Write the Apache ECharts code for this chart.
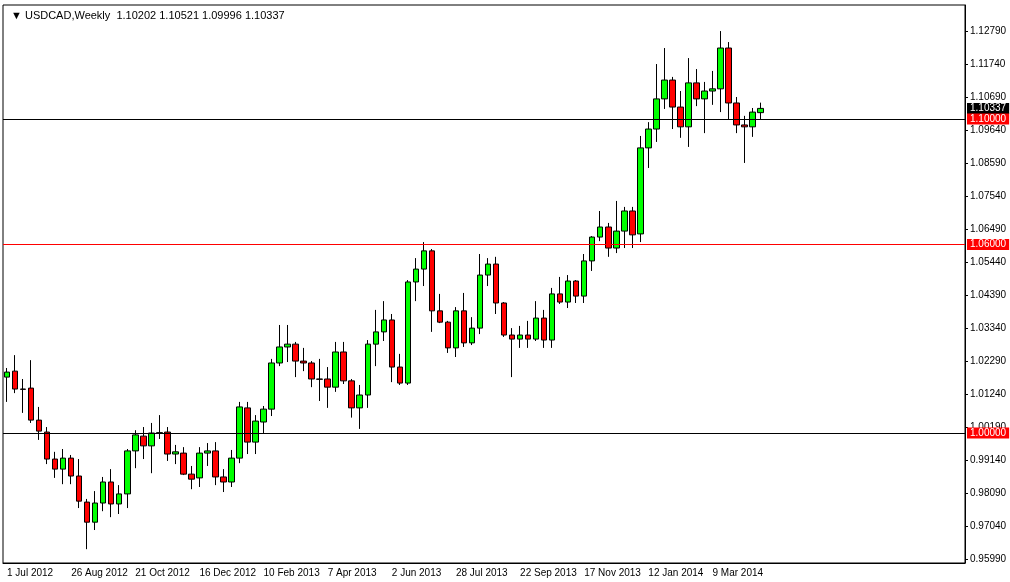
<!DOCTYPE html>
<html>
<head>
<meta charset="utf-8">
<script src="https://cdn.jsdelivr.net/npm/echarts@6/dist/echarts.min.js"></script>
<style>html,body{margin:0;background:#fff}#c{width:1010px;height:582px}</style>
</head>
<body>
<div id="c"></div>
<script>
// weekly USDCAD candles: [open, close, low, high]
var candles = [
[1.0178,1.0194,1.0099,1.0207],[1.0197,1.0140,1.0127,1.0248],[1.0140,1.0139,1.0064,1.0172],[1.0143,1.0041,1.0032,1.0232],
[1.0041,1.0006,0.9978,1.0083],[1.0003,0.9917,0.9901,1.0019],[0.9917,0.9885,0.9857,0.9940],[0.9885,0.9920,0.9837,0.9949],
[0.9920,0.9863,0.9837,0.9930],[0.9863,0.9783,0.9761,0.9917],[0.9780,0.9716,0.9630,0.9790],[0.9716,0.9777,0.9691,0.9815],
[0.9777,0.9844,0.9751,0.9860],[0.9844,0.9774,0.9732,0.9885],[0.9774,0.9806,0.9742,0.9834],[0.9806,0.9943,0.9761,0.9949],
[0.9943,0.9994,0.9888,1.0009],[0.9990,0.9959,0.9917,1.0019],[0.9959,1.0000,0.9872,1.0032],[1.0000,1.0001,0.9981,1.0057],
[1.0003,0.9933,0.9911,1.0019],[0.9933,0.9940,0.9901,0.9962],[0.9936,0.9869,0.9866,0.9955],[0.9869,0.9853,0.9821,0.9895],
[0.9857,0.9936,0.9828,0.9955],[0.9936,0.9943,0.9895,0.9968],[0.9943,0.9860,0.9834,0.9971],[0.9860,0.9844,0.9812,0.9885],
[0.9844,0.9920,0.9828,0.9946],[0.9920,1.0083,0.9904,1.0099],[1.0080,0.9971,0.9933,1.0099],[0.9971,1.0038,0.9933,1.0057],
[1.0035,1.0076,1.0000,1.0086],[1.0076,1.0223,1.0054,1.0236],[1.0223,1.0274,1.0213,1.0344],[1.0274,1.0283,1.0226,1.0344],
[1.0283,1.0229,1.0178,1.0290],[1.0229,1.0223,1.0197,1.0271],[1.0223,1.0172,1.0146,1.0229],[1.0172,1.0171,1.0102,1.0236],
[1.0172,1.0146,1.0080,1.0210],[1.0146,1.0258,1.0131,1.0290],[1.0258,1.0166,1.0156,1.0290],[1.0166,1.0080,1.0049,1.0172],
[1.0080,1.0121,1.0013,1.0153],[1.0121,1.0283,1.0080,1.0296],[1.0283,1.0322,1.0213,1.0392],[1.0322,1.0360,1.0293,1.0420],
[1.0360,1.0210,1.0162,1.0379],[1.0210,1.0159,1.0153,1.0252],[1.0159,1.0481,1.0153,1.0487],[1.0481,1.0522,1.0420,1.0557],
[1.0522,1.0580,1.0468,1.0608],[1.0580,1.0389,1.0322,1.0586],[1.0389,1.0353,1.0350,1.0443],[1.0353,1.0271,1.0255,1.0357],
[1.0271,1.0389,1.0242,1.0401],[1.0389,1.0287,1.0274,1.0446],[1.0287,1.0334,1.0280,1.0369],[1.0334,1.0503,1.0315,1.0570],
[1.0503,1.0538,1.0468,1.0557],[1.0538,1.0414,1.0379,1.0561],[1.0414,1.0312,1.0306,1.0417],[1.0312,1.0299,1.0178,1.0334],
[1.0299,1.0312,1.0271,1.0341],[1.0312,1.0299,1.0271,1.0357],[1.0299,1.0366,1.0293,1.0420],[1.0366,1.0296,1.0271,1.0392],
[1.0296,1.0443,1.0271,1.0462],[1.0443,1.0417,1.0411,1.0497],[1.0417,1.0484,1.0398,1.0503],[1.0484,1.0436,1.0414,1.0487],
[1.0436,1.0548,1.0414,1.0570],[1.0548,1.0624,1.0516,1.0627],[1.0624,1.0656,1.0611,1.0707],[1.0656,1.0589,1.0561,1.0669],
[1.0589,1.0643,1.0573,1.0739],[1.0643,1.0707,1.0589,1.0720],[1.0707,1.0631,1.0589,1.0720],[1.0634,1.0908,1.0608,1.0946],
[1.0908,1.0968,1.0844,1.0990],[1.0968,1.1064,1.0927,1.1175],[1.1064,1.1124,1.1032,1.1226],[1.1124,1.1038,1.0968,1.1134],
[1.1038,1.0975,1.0940,1.1089],[1.0975,1.1115,1.0911,1.1194],[1.1115,1.1064,1.1041,1.1159],[1.1064,1.1089,1.0955,1.1118],
[1.1089,1.1096,1.1045,1.1153],[1.1096,1.1226,1.1022,1.1280],[1.1226,1.1051,1.1000,1.1245],[1.1051,1.0981,1.0955,1.1070],
[1.0981,1.0975,1.0860,1.1010],[1.0975,1.1022,1.0943,1.1035],[1.10202,1.10337,1.09996,1.10521]
];
var priceTicks = [0.95990,0.97040,0.98090,0.99140,1.00190,1.01240,1.02290,1.03340,1.04390,1.05440,1.06490,1.07540,1.08590,1.09640,1.10690,1.11740,1.12790];
var hLines = [1.10000, 1.06000, 1.00000];
var lineColors = ['#000', '#ff0000', '#000'];
var lastPrice = 1.10337;
var startDate = new Date(Date.UTC(2012, 6, 1));
var totalSlots = 120;

var mon = ['Jan','Feb','Mar','Apr','May','Jun','Jul','Aug','Sep','Oct','Nov','Dec'];
var cats = [];
for (var i = 0; i < totalSlots; i++) {
  var d = new Date(startDate.getTime() + i * 7 * 86400000);
  cats.push(d.getUTCDate() + ' ' + mon[d.getUTCMonth()] + ' ' + d.getUTCFullYear());
}

var font = 'Liberation Sans';
var mlLabel = {position: 'end', fontSize: 10, padding: [1, 3, 0, 3], distance: 2, fontFamily: font,
  color: '#fff', formatter: function (p) { return Number(p.value).toFixed(5); }};

var chart = echarts.init(document.getElementById('c'));
chart.setOption({
  animation: false,
  backgroundColor: '#fff',
  title: {text: '\u25BC USDCAD,Weekly  1.10202 1.10521 1.09996 1.10337', left: 6, top: 5,
    textStyle: {fontSize: 11, fontWeight: 'normal', color: '#000', fontFamily: font}},
  grid: {left: 3, right: 45, top: 5, bottom: 19, show: true, borderColor: '#000', borderWidth: 1},
  xAxis: {
    type: 'category', data: cats, boundaryGap: true,
    axisLine: {lineStyle: {color: '#000'}},
    axisTick: {interval: function (i) { return i % 8 === 0; }, length: 3, alignWithLabel: true, lineStyle: {color: '#000'}},
    axisLabel: {interval: function (i) { return i % 8 === 0 && i < 96; }, align: 'left', margin: 5,
      fontSize: 10, color: '#000', fontFamily: font},
    splitLine: {show: false}
  },
  yAxis: {
    type: 'value', position: 'right', min: 0.9586, max: 1.1363, scale: true,
    axisLine: {show: true, lineStyle: {color: '#000'}},
    axisTick: {show: true, length: 3, customValues: priceTicks, lineStyle: {color: '#000'}},
    axisLabel: {customValues: priceTicks, fontSize: 10, color: '#000', margin: 5, fontFamily: font,
      formatter: function (v) { return v.toFixed(5); }},
    splitLine: {show: false}
  },
  series: [{
    type: 'candlestick', data: candles, barWidth: 6,
    itemStyle: {color: '#00ff00', color0: '#ff0000', borderColor: '#000', borderColor0: '#000', borderWidth: 1},
    markLine: {
      symbol: 'none', silent: true, precision: 5, label: mlLabel,
      data: [{yAxis: lastPrice, lineStyle: {color: 'rgba(0,0,0,0)', width: 1}, label: {backgroundColor: '#000'}}]
        .concat(hLines.map(function (v, i) {
          return {yAxis: v, lineStyle: {color: lineColors[i], width: 1, type: 'solid'},
            label: {backgroundColor: '#ff0000'}};
        }))
    }
  }]
});
</script>
</body>
</html>
